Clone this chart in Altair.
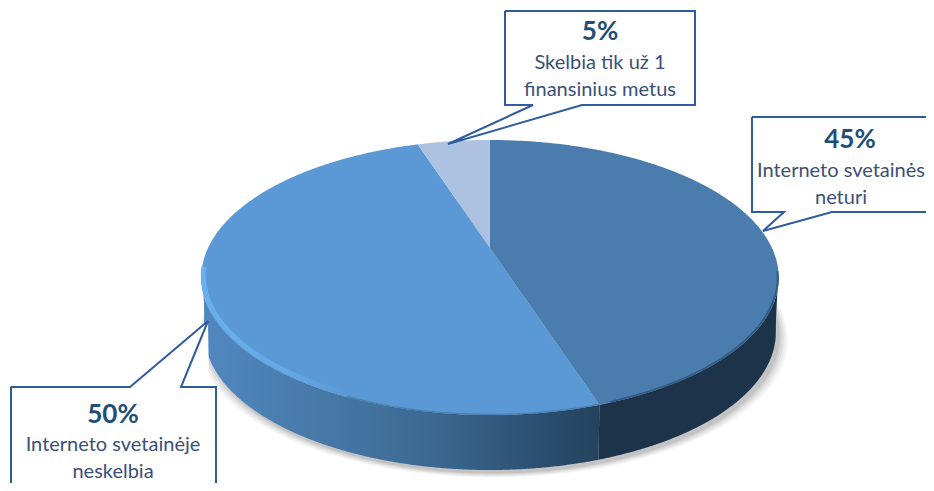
import numpy as np
import pandas as pd
import altair as alt

# ---- chart values ----
categories = ["Interneto svetainės neturi", "Interneto svetainėje neskelbia", "Skelbia tik už 1 finansinius metus"]
shares = [45, 50, 5]
pct_labels = ["45%", "50%", "5%"]
line_one = ["Interneto svetainės", "Interneto svetainėje", "Skelbia tik už 1"]
line_two = ["neturi", "neskelbia", "finansinius metus"]
top_colors = ["#4A7DAE", "#5A99D6", "#ADC2E0"]

W, H = 918, 475
FONT = "Lato"
TEXT = "#3B5079"
HEAD = "#1F4E79"
EDGE = "#2F5C9E"

# perspective view of a round pie, seen from above
CX, APEX, D, A, C = 490.0, 248.0, 282.0, -78.0, 0.2145
THICK = 55.0


def project(theta_deg, shift=0.0, sx=1.0):
    t = np.radians(np.asarray(theta_deg, dtype=float))
    u, v = np.sin(t), np.cos(t)
    den = 1 + C * v
    return CX + sx * D * u / den, (A * v + APEX) / den + shift


def span(poly, step=2.0):
    """vertical extent of a polygon column by column -> x, y, y2 rows"""
    px, py = np.asarray(poly[0]), np.asarray(poly[1])
    xs = np.unique(np.concatenate([px, np.arange(px.min(), px.max(), step)]))
    nx, ny = np.roll(px, -1), np.roll(py, -1)
    rows = []
    for x in xs:
        ys = []
        for a, b, c, d in zip(px, py, nx, ny):
            if min(a, c) <= x <= max(a, c):
                if a == c:
                    ys += [b, d]
                else:
                    ys.append(b + (d - b) * (x - a) / (c - a))
        rows.append({"x": float(x), "y": float(min(ys)), "y2": float(max(ys))})
    return pd.DataFrame(rows)


X = alt.X("x:Q", axis=None, scale=alt.Scale(domain=[8, 8 + W], nice=False, zero=False))
Y = alt.Y("y:Q", axis=None, scale=alt.Scale(domain=[8 + H, 8], nice=False, zero=False))


def area(poly, **mark):
    return alt.Chart(span(poly)).mark_area(clip=True, **mark).encode(x=X, y=Y, y2="y2:Q")


def path(px, py, **mark):
    df = pd.DataFrame({"x": px, "y": py, "o": np.arange(len(px))})
    return alt.Chart(df).mark_line(clip=True, **mark).encode(x=X, y=Y, order="o:Q")


def grad(stops):
    return alt.Gradient(
        gradient="linear", x1=0, x2=1, y1=0, y2=0,
        stops=[alt.GradientStop(color=c, offset=o) for o, c in stops],
    )


layers = []

# soft shadow below the pie
full = np.arange(0, 360, 3.0)
for grow, op in [(9, 0.035), (7, 0.04), (5, 0.05), (3, 0.06), (1, 0.07)]:
    sx_, sy_ = project(full, THICK + 2, (D + grow) / D * 0.99)
    layers.append(area((sx_ + 3, sy_ + grow * 0.5 + 1), fill="#000000", opacity=op))

# rim of the pie
bounds = np.cumsum(shares) / sum(shares) * 360
RIGHT, LEFT = 100.0, 262.0
split = bounds[0]


def side(t0, t1):
    th = np.arange(t0, t1 + 0.01, 2.0)
    xa, ya = project(th)
    xb, yb = project(th[::-1], THICK, 0.99)
    return np.concatenate([xa, xb]), np.concatenate([ya, yb])


layers.append(area(side(RIGHT, split), fill="#1C3349"))
layers.append(area(side(split, LEFT), fill=grad([
    (0, "#5088C0"), (0.3, "#4779A8"), (0.6, "#3A678F"), (0.85, "#2B4F70"), (1, "#24425C"),
])))

# top face
starts = np.concatenate([[0], bounds[:-1]])
for s, e, col in zip(starts, bounds, top_colors):
    th = np.arange(s, e + 0.01, 2.0)
    xa, ya = project(th)
    layers.append(area((np.concatenate([[CX], xa]), np.concatenate([[APEX], ya])), fill=col))

# bevel along the near edge: a light band on the left, fading out to the right
th = np.arange(205, 262, 2.0)
bx, by = project(th)
layers.append(path(bx + 2, by - 2.5, strokeWidth=5, opacity=0.85, stroke=grad([
    (0, "#6CB4F2"), (0.6, "#66ABE8"), (1, "#5A99D6"),
])))
th = np.arange(100, 162, 2.0)
bx, by = project(th)
layers.append(path(bx - 1, by - 0.5, strokeWidth=2, stroke="#2F5578", opacity=0.8))
th = np.arange(162, 205, 2.0)
bx, by = project(th)
layers.append(path(bx, by - 0.5, strokeWidth=1.5, stroke="#3E6F9F", opacity=0.6))


# call-outs, clipped by the picture edge as in the original
def callout(px, py):
    layers.append(area((np.array(px), np.array(py)), fill="#FFFFFF"))
    layers.append(path(px + px[:1], py + py[:1], stroke=EDGE, strokeWidth=2, strokeJoin="miter"))


callout([752, 1000, 1000, 832, 763, 784, 752], [117, 117, 212, 212, 231, 212, 212])
callout([11, 130, 208, 181, 216, 216, 11], [387, 387, 321, 387, 387, 560, 560])
callout([505, 695, 695, 582, 448, 533, 505], [11, 11, 105, 105, 144, 105, 105])

head_x = [850, 113, 600]
body_x = [841, 113, 600]
label_y = [140, 415, 32]
gap_one = [31, 30, 31]
gap_two = [58, 57, 58]
rows_head, rows_text = [], []
for i in range(3):
    rows_head.append({"x": head_x[i], "y": label_y[i], "t": pct_labels[i]})
    rows_text.append({"x": body_x[i], "y": label_y[i] + gap_one[i], "t": line_one[i]})
    rows_text.append({"x": body_x[i], "y": label_y[i] + gap_two[i], "t": line_two[i]})

layers.append(alt.Chart(pd.DataFrame(rows_head)).mark_text(
    font=FONT, fontSize=26, fontWeight="bold", color=HEAD, baseline="middle", align="center"
).encode(x=X, y=Y, text="t:N"))
layers.append(alt.Chart(pd.DataFrame(rows_text)).mark_text(
    font=FONT, fontSize=20, color=TEXT, baseline="middle", align="center"
).encode(x=X, y=Y, text="t:N"))

chart = alt.layer(*layers).properties(
    width=W, height=H, padding=0, background="#FFFFFF",
    autosize=alt.AutoSizeParams(type="none"),
).configure_view(stroke=None)

chart.save("out.html", embed_options={"renderer": "svg", "actions": False})
